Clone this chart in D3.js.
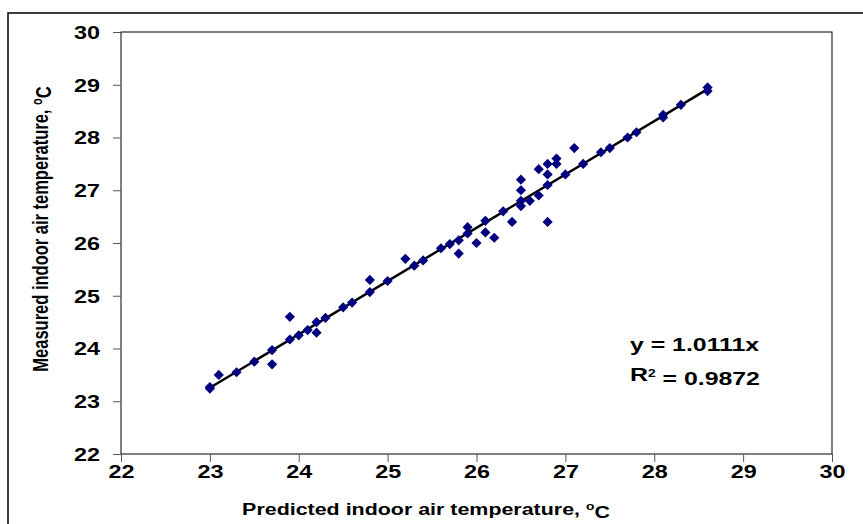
<!DOCTYPE html>
<html>
<head>
<meta charset="utf-8">
<script src="https://cdn.jsdelivr.net/npm/d3@7"></script>
<style>
  html, body { margin: 0; padding: 0; background: #fff; }
  svg { display: block; }
  text { font-family: "Liberation Sans", Arial, sans-serif; font-weight: bold; fill: #000; }
</style>
</head>
<body>
<svg id="chart" width="863" height="524"></svg>
<script>
// ---- data ----
const predicted = [23.0, 23.0, 23.1, 23.3, 23.5, 23.7, 23.7, 23.9, 23.9, 24.0, 24.1, 24.2, 24.2, 24.3,
  24.5, 24.6, 24.8, 24.8, 25.0, 25.2, 25.3, 25.4, 25.6, 25.7, 25.8, 25.8, 25.9, 25.9, 26.0,
  26.1, 26.1, 26.2, 26.3, 26.4, 26.5, 26.5, 26.5, 26.5, 26.6, 26.7, 26.7, 26.8, 26.8, 26.8, 26.8,
  26.9, 26.9, 27.0, 27.1, 27.2, 27.4, 27.5, 27.7, 27.8, 28.1, 28.1, 28.3, 28.6, 28.6];
const measured = [23.27, 23.24, 23.5, 23.55, 23.75, 23.97, 23.7, 24.6, 24.17, 24.25, 24.35, 24.5, 24.3, 24.58,
  24.78, 24.87, 25.3, 25.07, 25.28, 25.7, 25.57, 25.67, 25.9, 25.98, 26.05, 25.8, 26.3, 26.18, 26.0,
  26.42, 26.2, 26.1, 26.6, 26.4, 27.2, 27.0, 26.8, 26.7, 26.8, 27.4, 26.9, 27.5, 27.3, 27.1, 26.4,
  27.6, 27.5, 27.3, 27.8, 27.5, 27.72, 27.8, 28.0, 28.1, 28.43, 28.38, 28.62, 28.95, 28.88];
const xTicks = [22, 23, 24, 25, 26, 27, 28, 29, 30];
const yTicks = [22, 23, 24, 25, 26, 27, 28, 29, 30];
const trendSlope = 1.0111;
const trendRange = [23.0, 28.6];
const equationText = "y = 1.0111x";
const r2Value = "0.9872";
const xTitle = "Predicted indoor air temperature, ";
const yTitle = "Measured indoor air temperature, ";

// ---- layout ----
const plot = { left: 121, right: 832, top: 32, bottom: 454 };
const SX = 1.3;   // horizontal text stretch
const FS = 18;

const svg = d3.select("#chart");

// outer chart border
svg.append("rect").attr("x", 8).attr("y", 13).attr("width", 900).attr("height", 600)
  .attr("fill", "none").attr("stroke", "#000").attr("stroke-width", 1.5);

const x = d3.scaleLinear().domain([22, 30]).range([plot.left, plot.right]);
const y = d3.scaleLinear().domain([22, 30]).range([plot.bottom, plot.top]);

// plot area border
svg.append("rect").attr("x", plot.left).attr("y", plot.top)
  .attr("width", plot.right - plot.left).attr("height", plot.bottom - plot.top)
  .attr("fill", "#fff").attr("stroke", "#000").attr("stroke-width", 1);

// x axis
const gx = svg.append("g").attr("transform", `translate(0,${plot.bottom})`)
  .call(d3.axisBottom(x).tickValues(xTicks).tickSize(8).tickSizeOuter(0).tickFormat(d3.format("d")));
gx.select(".domain").remove();
gx.selectAll(".tick line").attr("stroke", "#555");
gx.selectAll(".tick text").attr("y", 0).attr("dy", null)
  .attr("transform", `translate(0,24) scale(${SX},1)`)
  .style("font-size", FS + "px");

// y axis
const gy = svg.append("g").attr("transform", `translate(${plot.left},0)`)
  .call(d3.axisLeft(y).tickValues(yTicks).tickSize(8).tickSizeOuter(0).tickFormat(d3.format("d")));
gy.select(".domain").remove();
gy.selectAll(".tick line").attr("stroke", "#555");
gy.selectAll(".tick text").attr("x", 0).attr("dy", "0.35em")
  .attr("transform", `translate(-21,0) scale(${SX},1)`)
  .style("font-size", FS + "px");

// trend line
const line = d3.line().x(d => x(d)).y(d => y(trendSlope * d));
svg.append("path").datum(trendRange).attr("d", line)
  .attr("fill", "none").attr("stroke", "#000").attr("stroke-width", 2.5);

// points
const pts = predicted.map((p, i) => ({ p, m: measured[i] }));
const sym = d3.symbol().type(d3.symbolDiamond2).size(66);
svg.append("g").selectAll("path").data(pts).join("path")
  .attr("transform", d => `translate(${x(d.p)},${y(d.m)})`)
  .attr("d", sym).attr("fill", "#000080");

// equation
const EX = 1.38;
const eq = svg.append("g").attr("transform", `translate(630,0)`);
eq.append("text").attr("transform", `translate(0,351) scale(${EX},1)`)
  .style("font-size", FS + "px").text(equationText);
const r2 = eq.append("text").attr("transform", `translate(0,381) scale(${EX},1)`)
  .style("font-size", FS + "px");
r2.append("tspan").text("R");
r2.append("tspan").attr("dy", "-0.45em").style("font-size", "10px").text("2");
r2.append("tspan").attr("dy", "0.45em").text(" = " + r2Value);

// x title
const xt = svg.append("text").attr("transform", `translate(426,515) scale(1.26,1)`)
  .attr("text-anchor", "middle").style("font-size", "17px");
xt.append("tspan").text(xTitle);
xt.append("tspan").attr("dy", "-0.45em").style("font-size", "11px").text("o");
xt.append("tspan").attr("dy", "0.45em").text("C");

// y title
const yt = svg.append("text").attr("transform", `translate(48,229) scale(1.3,1) rotate(-90)`)
  .attr("text-anchor", "middle").style("font-size", "16.5px");
yt.append("tspan").text(yTitle);
yt.append("tspan").attr("dy", "-0.45em").style("font-size", "11px").text("o");
yt.append("tspan").attr("dy", "0.45em").text("C");
</script>
</body>
</html>
